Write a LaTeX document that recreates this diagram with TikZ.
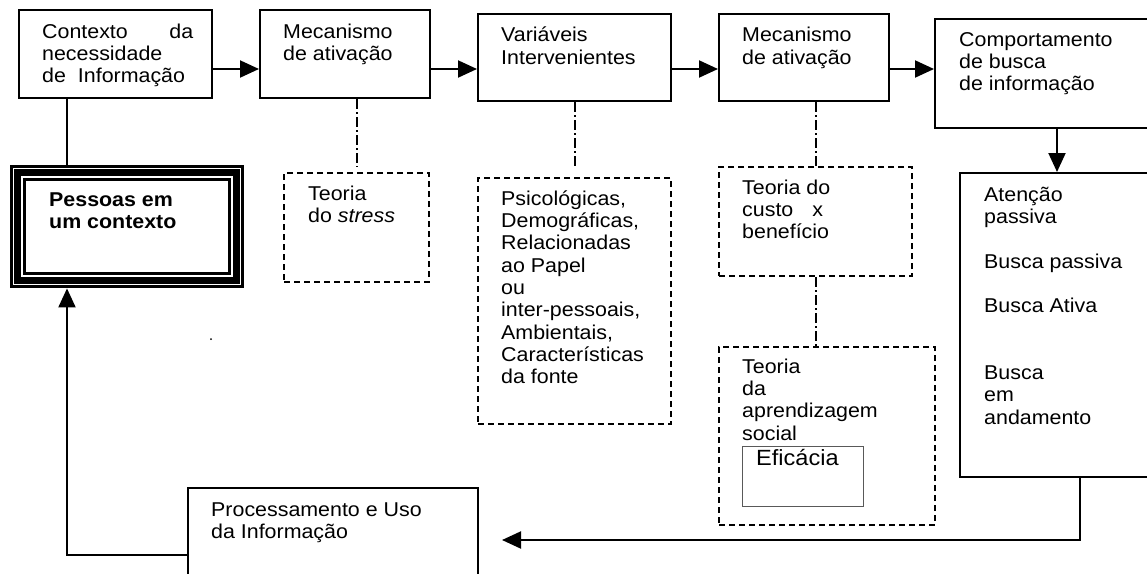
\documentclass[tikz,border=0pt]{standalone}
\usepackage{fontspec}
\setmainfont{Liberation Sans}[FakeStretch=1.07]
\usetikzlibrary{arrows.meta,calc}
\tikzset{
 box/.style={draw, line width=2pt, rectangle, inner sep=0pt, anchor=north west},
 dbox/.style={draw, line width=2pt, dash pattern=on 6pt off 4pt, rectangle, inner sep=0pt, anchor=north west},
 effbox/.style={draw=black!65, line width=1.2pt, rectangle, inner sep=0pt, anchor=north west},
 txt/.style={anchor=north west, inner sep=0pt, align=left, font=\fontsize{20}{22.3}\selectfont},
 arr/.style={line width=2pt, -{Triangle[length=19pt,width=17pt]}},
 link/.style={line width=2pt},
 dlink/.style={line width=2pt, dash pattern=on 10pt off 3pt on 2pt off 3pt},
}
\newcommand{\st}{\rule{0pt}{18pt}}
\begin{document}
\begin{tikzpicture}[x=1pt,y=-1pt]
\useasboundingbox[fill=white] (0,0) rectangle (1147,573);
% top row
\node[box, minimum width=193pt, minimum height=88pt] (b1) at (18,9) {};
\node[txt] (t1) at (42,20) {\st\makebox[151pt][l]{Contexto\hfill da}\\necessidade\\de\hspace{12pt}Informação};
\node[box, minimum width=170pt, minimum height=88pt] (b2) at (259,9) {};
\node[txt] (t2) at (283,20) {\st Mecanismo\\de ativação};
\node[box, minimum width=193pt, minimum height=87pt] (b3) at (477,13) {};
\node[txt] (t3) at (501,23.7) {\st Variáveis\\Intervenientes};
\node[box, minimum width=170pt, minimum height=87pt] (b4) at (718,13) {};
\node[txt] (t4) at (742,23.7) {\st Mecanismo\\de ativação};
\node[box, minimum width=244pt, minimum height=109pt] (b5) at (934,18) {};
\node[txt] (t5) at (959,28) {\st Comportamento\\de busca\\de informação};
% right column
\node[box, minimum width=240pt, minimum height=304pt] (b6) at (959,172) {};
\node[txt] (t6) at (984,183) {\st Atenção\\passiva\\[22.3pt]Busca passiva\\[22.3pt]Busca Ativa\\[44.6pt]Busca\\em\\andamento};
% people box
\node[minimum width=234pt, minimum height=123pt, inner sep=0pt, anchor=north west] (pe) at (10,165) {};
\draw[line width=3pt] ($(pe.north west)+(1.5,1.5)$) rectangle ($(pe.south east)+(-1.5,-1.5)$);
\draw[line width=7pt] ($(pe.north west)+(7.5,7.5)$) rectangle ($(pe.south east)+(-7.5,-7.5)$);
\draw[line width=3pt] ($(pe.north west)+(14.5,14.5)$) rectangle ($(pe.south east)+(-14.5,-14.5)$);
\node[txt, font=\fontsize{20}{22.3}\selectfont\bfseries] (tp) at (49,188) {\st Pessoas em\\um contexto};
% dashed boxes
\node[dbox, minimum width=145pt, minimum height=109pt] (ts) at (283,172) {};
\node[txt] (tts) at (308,182) {\st Teoria\\do \textit{stress}};
\node[dbox, minimum width=193pt, minimum height=246pt] (vb) at (477,177) {};
\node[txt] (tvb) at (501,187) {\st Psicológicas,\\Demográficas,\\Relacionadas\\ao Papel\\ou\\inter-pessoais,\\Ambientais,\\Características\\da fonte};
\node[dbox, minimum width=193pt, minimum height=109pt] (tc) at (718,166) {};
\node[txt] (ttc) at (742,176) {\st Teoria do\\custo\hspace{19pt}x\\benefício};
\node[dbox, minimum width=216pt, minimum height=178pt] (ta) at (718,346) {};
\node[txt] (tta) at (742,355) {\st Teoria\\da\\aprendizagem\\social};
\node[effbox, minimum width=121pt, minimum height=60pt] (ef) at (742,446) {};
\node[txt, font=\fontsize{22}{24}\selectfont] (tef) at (756,446) {\st\rule{0pt}{19pt}Eficácia};
% processing box
\node[box, minimum width=290pt, minimum height=134pt] (pr) at (187,487) {};
\node[txt] (tpr) at (211,498) {\st Processamento e Uso\\da Informação};
% stray dot
\fill (211,339) circle (1pt);
% connectors
\coordinate (row) at (0,69);
\coordinate (col) at (67,0);
\coordinate (pin) at (502,540);
\draw[arr] (b1.east |- row) -- (b2.west |- row);
\draw[arr] (b2.east |- row) -- (b3.west |- row);
\draw[arr] (b3.east |- row) -- (b4.west |- row);
\draw[arr] (b4.east |- row) -- (b5.west |- row);
\draw[link] (b1.south -| col) -- (pe.north -| col);
\draw[dlink, shorten >=5pt] (b2.south -| ts.north) -- (ts.north);
\draw[dlink, shorten >=10pt] (b3.south -| vb.north) -- (vb.north);
\draw[dlink] (b4.south -| tc.north) -- (tc.north);
\draw[dlink] (tc.south) -- (tc.south |- ta.north);
\draw[arr] (b5.south) -- (b6.north -| b5.south);
\draw[arr] (b6.south) |- (pin);
\draw[arr] (pr.west) -| (pe.south -| col);
\end{tikzpicture}
\end{document}
